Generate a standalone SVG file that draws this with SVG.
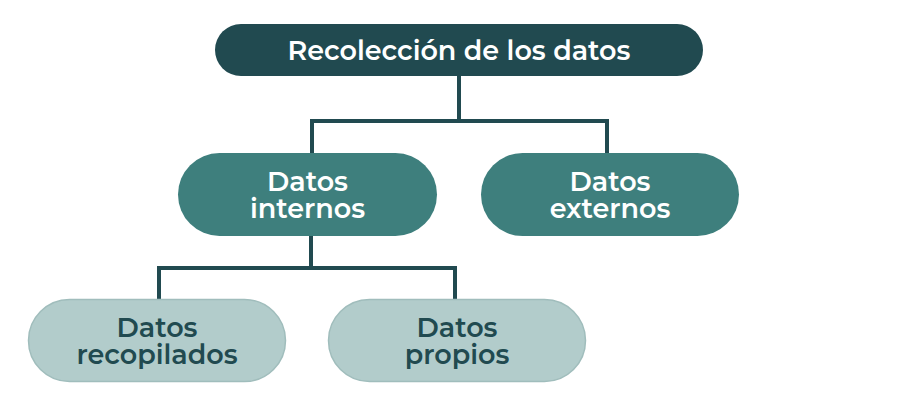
<svg xmlns="http://www.w3.org/2000/svg" width="918" height="407" viewBox="0 0 918 407">
<style>
.t{font-family:"Montserrat","Liberation Sans",sans-serif;font-weight:600;font-size:27px;text-anchor:middle}
.l{fill:#ffffff}
.d{fill:#214a50}
.c{fill:none;stroke:#214a50;stroke-width:4}
</style>
<rect width="918" height="407" fill="#ffffff"/>
<g id="connectors">
<path class="c" d="M459,76 V121 M312,155 V121 H607 V155"/>
<path class="c" d="M311,236 V268 M159,300 V268 H455 V300"/>
</g>
<g id="n-recoleccion">
<rect x="215" y="24" width="488" height="52" rx="26" fill="#214a50"/>
<text class="t l" x="459" y="60">Recolección de los datos</text>
</g>
<g id="n-internos">
<rect x="178" y="153" width="259" height="83" rx="41.5" fill="#3e7f7d"/>
<text class="t l" x="307.5" y="191">Datos<tspan x="307.5" dy="27">internos</tspan></text>
</g>
<g id="n-externos">
<rect x="481" y="153" width="258" height="83" rx="41.5" fill="#3e7f7d"/>
<text class="t l" x="610" y="191">Datos<tspan x="610" dy="27">externos</tspan></text>
</g>
<g id="n-recopilados">
<rect x="28.5" y="299.5" width="257" height="82" rx="41" fill="#b2cccb" stroke="#a0bdbc" stroke-width="1.5"/>
<text class="t d" x="157" y="337">Datos<tspan x="157" dy="27">recopilados</tspan></text>
</g>
<g id="n-propios">
<rect x="328.5" y="299.5" width="257" height="82" rx="41" fill="#b2cccb" stroke="#a0bdbc" stroke-width="1.5"/>
<text class="t d" x="457" y="337">Datos<tspan x="457" dy="27">propios</tspan></text>
</g>
</svg>
